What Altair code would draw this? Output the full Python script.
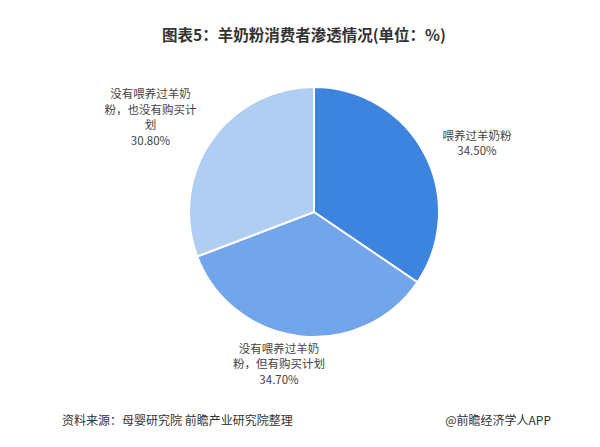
import altair as alt
import pandas as pd
import math

categories = ["喂养过羊奶粉", "没有喂养过羊奶粉，但有购买计划", "没有喂养过羊奶粉，也没有购买计划"]
values = [34.5, 34.7, 30.8]
label_lines = [
    "喂养过羊奶粉\n34.50%",
    "没有喂养过羊奶\n粉，但有购买计划\n34.70%",
    "没有喂养过羊奶\n粉，也没有购买计\n划\n30.80%",
]
colors = ["#3d84de", "#72a5ea", "#b0cdf2"]

df = pd.DataFrame({"cat": categories, "value": values, "label": label_lines, "idx": [0, 1, 2]})

FONT = "Noto Sans CJK SC"
CX, CY = 306, 204
TSCALE = alt.Scale(domain=[0, 100], range=[0, 2 * math.pi])

pie = alt.Chart(df).mark_arc(radius=125, stroke="white", strokeWidth=2).encode(
    theta=alt.Theta("value:Q", stack=True, scale=TSCALE),
    order=alt.Order("idx:Q"),
    color=alt.Color("cat:N", scale=alt.Scale(domain=categories, range=colors), legend=None),
    x=alt.value(CX), y=alt.value(CY),
)

def lab(i, r, dx, dy):
    return alt.Chart(df).transform_window(
        cum="sum(value)", sort=[alt.SortField("idx")]
    ).transform_calculate(
        mid="datum.cum - datum.value / 2"
    ).transform_filter(alt.datum.idx == i).mark_text(
        radius=r, dx=dx, dy=dy, font=FONT, fontSize=11.5, color="#444444",
        lineBreak="\n", lineHeight=15.5, align="center", baseline="middle",
    ).encode(
        theta=alt.Theta("mid:Q", stack=None, scale=TSCALE),
        text="label:N", x=alt.value(CX), y=alt.value(CY),
    )

l1 = lab(0, 172, 11, 5)
l2 = lab(1, 155, -17, -16)
l3 = lab(2, 190, -7, -9)

title = alt.Chart(pd.DataFrame({"t": ["图表5：羊奶粉消费者渗透情况(单位：%)"]})).mark_text(
    font=FONT, fontSize=15.5, fontWeight="bold", color="#333333", align="center", baseline="middle"
).encode(text="t:N", x=alt.value(296), y=alt.value(28))

src = alt.Chart(pd.DataFrame({"t": ["资料来源：母婴研究院 前瞻产业研究院整理"]})).mark_text(
    font=FONT, fontSize=12, color="#333333", align="left", baseline="middle"
).encode(text="t:N", x=alt.value(54), y=alt.value(413))

brand = alt.Chart(pd.DataFrame({"t": ["@前瞻经济学人APP"]})).mark_text(
    font=FONT, fontSize=12, color="#333333", align="right", baseline="middle"
).encode(text="t:N", x=alt.value(543), y=alt.value(413))

chart = alt.layer(pie, l1, l2, l3, title, src, brand).properties(
    width=584, height=431, padding=0, background="white",
    autosize=alt.AutoSizeParams(type="fit", contains="padding"),
).configure_view(strokeWidth=0)

chart.save("out.html", embed_options={"renderer": "svg", "actions": False})
